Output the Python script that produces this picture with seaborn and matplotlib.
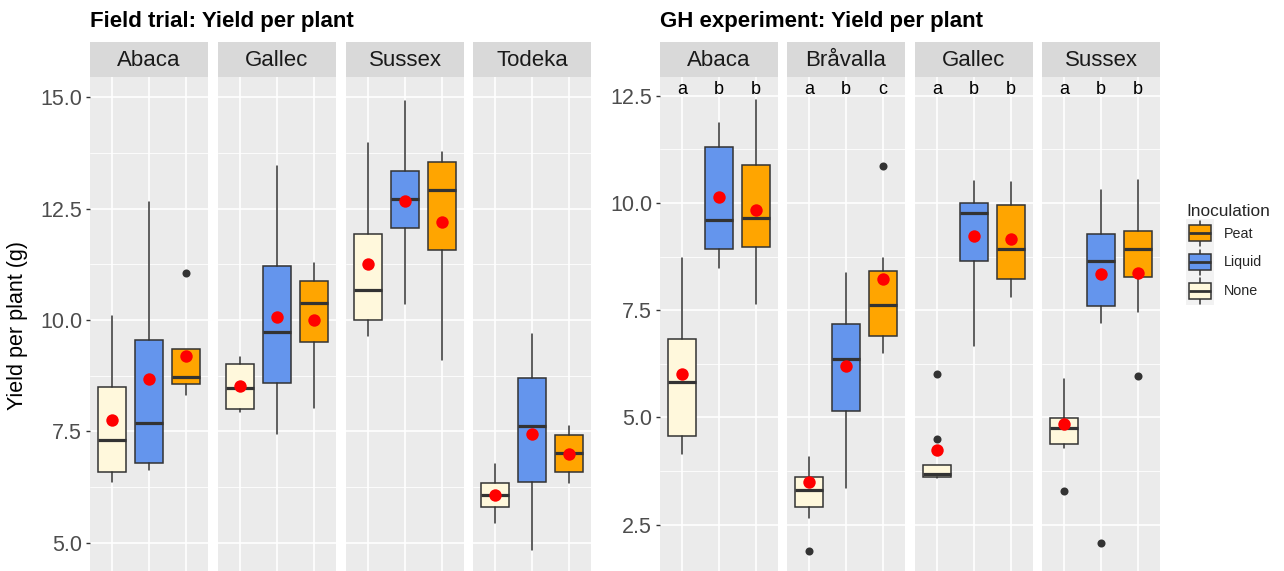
import numpy as np
import pandas as pd
import matplotlib
matplotlib.use("Agg")
import matplotlib.pyplot as plt
import seaborn as sns
from matplotlib.patches import Rectangle, Patch
from matplotlib.lines import Line2D
from matplotlib.legend_handler import HandlerBase

# ---------------- data ----------------
treatments = ["None", "Liquid", "Peat"]
treatment_colors = ["#FFF8DC", "#6495ED", "#FFA500"]

field_cultivars = ["Abaca", "Gallec", "Sussex", "Todeka"]
field_lower = [[6.36, 6.64, 8.31], [7.94, 7.44, 8.02], [9.65, 10.36, 9.11], [5.45, 4.85, 6.34]]
field_q1 = [[6.58, 6.79, 8.57], [8.00, 8.58, 9.51], [10.01, 12.07, 11.57], [5.80, 6.36, 6.60]]
field_median = [[7.31, 7.68, 8.73], [8.48, 9.72, 10.37], [10.68, 12.72, 12.92], [6.07, 7.63, 7.02]]
field_q3 = [[8.50, 9.55, 9.36], [9.01, 11.20, 10.87], [11.92, 13.35, 13.54], [6.34, 8.69, 7.43]]
field_upper = [[10.09, 12.65, 9.36], [9.16, 13.46, 11.27], [13.96, 14.92, 13.76], [6.78, 9.69, 7.63]]
field_mean = [[7.76, 8.67, 9.19], [8.52, 10.07, 10.00], [11.25, 12.68, 12.19], [6.08, 7.44, 7.00]]
field_outliers = [[[], [], [11.05]], [[], [], []], [[], [], []], [[], [], []]]

gh_cultivars = ["Abaca", "Bråvalla", "Gallec", "Sussex"]
gh_lower = [[4.16, 8.48, 7.64], [2.65, 3.36, 6.50], [3.59, 6.66, 7.80], [4.30, 7.21, 7.45]]
gh_q1 = [[4.57, 8.94, 8.98], [2.92, 5.15, 6.91], [3.62, 8.65, 8.24], [4.37, 7.59, 8.28]]
gh_median = [[5.83, 9.60, 9.66], [3.31, 6.36, 7.62], [3.68, 9.78, 8.93], [4.75, 8.65, 8.93]]
gh_q3 = [[6.84, 11.30, 10.88], [3.62, 7.19, 8.41], [3.89, 10.01, 9.96], [4.99, 9.29, 9.34]]
gh_upper = [[8.71, 11.86, 12.40], [4.07, 8.36, 8.71], [3.89, 10.52, 10.48], [5.90, 10.31, 10.54]]
gh_mean = [[6.01, 10.13, 9.84], [3.50, 6.20, 8.24], [4.24, 9.24, 9.16], [4.85, 8.34, 8.37]]
gh_outliers = [[[], [], []], [[1.89], [], [10.87]], [[6.01, 4.49], [], []], [[3.28], [2.08], [5.96]]]
gh_letters = [["a", "b", "b"], ["a", "b", "c"], ["a", "b", "b"], ["a", "b", "b"]]

field_ticks = [5.0, 7.5, 10.0, 12.5, 15.0]
field_minor = [6.25, 8.75, 11.25, 13.75]
gh_ticks = [2.5, 5.0, 7.5, 10.0, 12.5]
gh_minor = [3.75, 6.25, 8.75, 11.25]

# ---------------- style ----------------
sns.set_theme(style="darkgrid", rc={"axes.facecolor": "#EBEBEB", "grid.color": "white"})
plt.rcParams["font.family"] = ["Liberation Sans", "DejaVu Sans"]

W, H = 1284, 571
fig = plt.figure(figsize=(W / 100, H / 100), dpi=100)
EDGE = "#333333"


def px_axes(x0, y0, w, h):
    return fig.add_axes([x0 / W, 1 - (y0 + h) / H, w / W, h / H])


def draw_panel(x_lefts, cultivars, lo, q1, med, q3, hi, means, outl, ylim,
               major, minor, letters=None, letter_y=None):
    for i, (xl, cv) in enumerate(zip(x_lefts, cultivars)):
        ax = px_axes(xl, 77, 118, 494)
        ax.set_facecolor("#EBEBEB")
        ax.set_axisbelow(True)
        stats = []
        for j, t in enumerate(treatments):
            stats.append(dict(whislo=lo[i][j], q1=q1[i][j], med=med[i][j], q3=q3[i][j],
                              whishi=hi[i][j], fliers=np.array(outl[i][j]), label=t))
        bp = ax.bxp(stats, positions=[0, 1, 2], widths=0.75, patch_artist=True,
                    showcaps=False, showfliers=True,
                    boxprops=dict(edgecolor=EDGE, linewidth=1.1),
                    whiskerprops=dict(color=EDGE, linewidth=1.1),
                    medianprops=dict(color=EDGE, linewidth=2.3, solid_capstyle="butt"),
                    flierprops=dict(marker="o", markerfacecolor=EDGE, markeredgecolor="none",
                                    markersize=5.8),
                    zorder=3)
        for patch, c in zip(bp["boxes"], treatment_colors):
            patch.set_facecolor(c)
        df = pd.DataFrame({"x": [0, 1, 2], "mean": means[i]})
        sns.scatterplot(data=df, x="x", y="mean", ax=ax, color="red", s=80,
                        linewidth=0, zorder=5, legend=False)
        ax.set_xlabel("")
        ax.set_ylabel("")
        ax.set_xlim(-0.6, 2.6)
        ax.set_ylim(*ylim)
        ax.set_xticks([0, 1, 2])
        ax.set_xticklabels([])
        ax.set_yticks(major)
        ax.set_yticks(minor, minor=True)
        ax.grid(which="major", color="white", linewidth=1.2)
        ax.grid(which="minor", color="white", linewidth=0.6)
        ax.tick_params(axis="x", length=0)
        ax.tick_params(axis="y", which="minor", length=0)
        for s in ax.spines.values():
            s.set_visible(False)
        if i == 0:
            ax.set_yticklabels([f"{v:.1f}" for v in major])
            ax.tick_params(axis="y", which="major", left=True, length=3.2, width=1.0,
                           color=EDGE, labelsize=15.5, labelcolor="#4D4D4D", pad=2.5)
        else:
            ax.set_yticklabels([])
            ax.tick_params(axis="y", which="major", length=0)
        if letters is not None:
            for j, lt in enumerate(letters[i]):
                ax.text(j, letter_y, lt, ha="center", va="center", fontsize=13,
                        color="black", zorder=6)
        # strip
        fig.patches.append(Rectangle((xl / W, 1 - 77 / H), 118 / W, 35 / H,
                                     transform=fig.transFigure, facecolor="#D9D9D9",
                                     edgecolor="none", zorder=0))
        fig.text((xl + 59) / W, 1 - 60 / H, cv, ha="center", va="center",
                 fontsize=16, color="#1A1A1A")


draw_panel([90, 218, 346, 473], field_cultivars, field_lower, field_q1, field_median,
           field_q3, field_upper, field_mean, field_outliers, (4.37, 15.45),
           field_ticks, field_minor)
draw_panel([660, 787, 915, 1042], gh_cultivars, gh_lower, gh_q1, gh_median,
           gh_q3, gh_upper, gh_mean, gh_outliers, (1.42, 12.94),
           gh_ticks, gh_minor, letters=gh_letters, letter_y=12.66)

fig.text(90 / W, 1 - 21 / H, "Field trial: Yield per plant", fontweight="bold",
         fontsize=16, va="center", ha="left", color="black")
fig.text(660 / W, 1 - 21 / H, "GH experiment: Yield per plant", fontweight="bold",
         fontsize=16, va="center", ha="left", color="black")
fig.text(18 / W, 1 - 326 / H, "Yield per plant (g)", rotation=90, va="center",
         ha="center", fontsize=15.5, color="black")


# ---------------- legend ----------------
class BoxHandler(HandlerBase):
    def create_artists(self, legend, orig_handle, xdescent, ydescent, width, height,
                       fontsize, trans):
        x0, y0 = -xdescent, -ydescent
        bg = Rectangle((x0, y0), width, height, facecolor="#F2F2F2", edgecolor="none",
                       transform=trans)
        cx = x0 + width / 2
        cy = y0 + height / 2
        bw = width * 0.80
        bh = height * 0.56
        wh = Line2D([cx, cx], [y0 + height * 0.06, y0 + height * 0.94], color=EDGE,
                    linewidth=1.1, transform=trans)
        box = Rectangle((cx - bw / 2, cy - bh / 2), bw, bh,
                        facecolor=orig_handle.get_facecolor(), edgecolor=EDGE,
                        linewidth=1.1, transform=trans)
        md = Line2D([cx - bw / 2, cx + bw / 2], [cy, cy], color=EDGE, linewidth=2.0,
                    solid_capstyle="butt", transform=trans)
        return [bg, wh, box, md]


legend_order = [2, 1, 0]
handles = [Patch(facecolor=treatment_colors[k]) for k in legend_order]
labels = [treatments[k] for k in legend_order]
fig.legend(handles, labels, handler_map={Patch: BoxHandler()}, loc="upper left",
           bbox_to_anchor=(1186 / W, 1 - 204 / H), frameon=False, title="Inoculation",
           title_fontsize=12.4, fontsize=10.3, handlelength=1.95, handleheight=2.72,
           labelspacing=0, handletextpad=0.72, borderpad=0, borderaxespad=0,
           alignment="left")

fig.savefig("out.png", dpi=100)
